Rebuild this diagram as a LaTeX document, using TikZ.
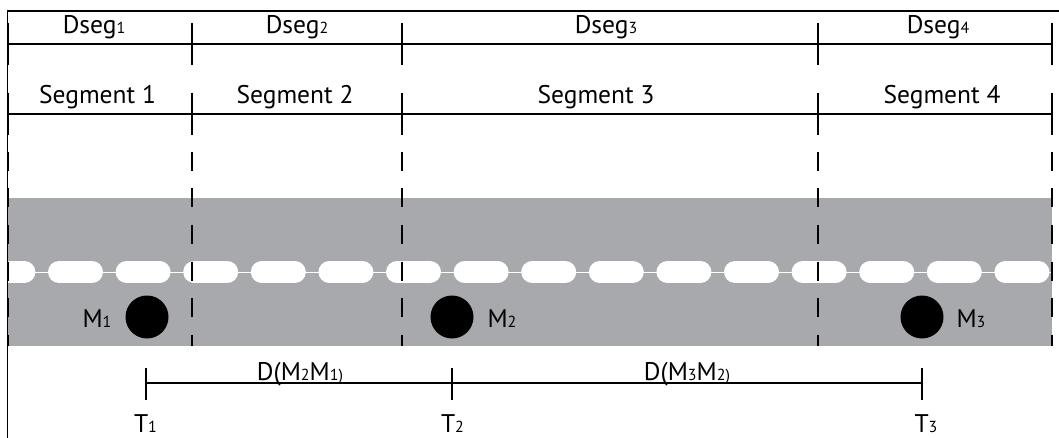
\documentclass[tikz,border=0pt]{standalone}
\usepackage{fontspec}
\setmainfont{PT Sans}
\definecolor{road}{HTML}{A7A9AC}
\newcommand\sbs[1]{{\fontsize{16}{16}\selectfont #1}}
\begin{document}
\begin{tikzpicture}[x=1pt,y=-1pt,
  lbl/.style={anchor=base, inner sep=0pt, font=\fontsize{25.5}{29}\selectfont},
  tickline/.style={line width=2pt},
  hline/.style={line width=1.5pt},
  divider/.style={line width=2pt, dash pattern=on 19pt off 17.5pt},
  marker/.style={circle, fill=black, minimum size=43pt, inner sep=0pt},
  lanedash/.style={white, line width=22pt, line cap=round}]
\useasboundingbox (0,0) rectangle (1059,438);
% road
\fill[road] (8,198) rectangle (1052,346);
\begin{scope}
  \clip (8,198) rectangle (1052,346);
  \draw[white, line width=1pt] (8,272) -- (1052,272);
  \foreach \k in {0,...,15} {
    \draw[lanedash] ({48+67.6*(\k-1)+11},272) -- ({48+67.6*(\k-1)+44},272);
  }
\end{scope}
% frame
\draw[line width=2pt] (7,11) -- (1059,11);
\draw[line width=1.3pt] (7.5,10) -- (7.5,438);
\draw[hline] (8,44) -- (1052,44);
\draw[hline] (8,114) -- (1052,114);
\foreach \x in {8,192,402,818,1052} {
  \draw[tickline] (\x,23) -- (\x,65);
  \draw[tickline] (\x,93) -- (\x,135);
  \draw[divider] (\x,152) -- (\x,346);
}
% header labels
\node[lbl] (ds1) at (94,34) {Dseg\sbs{1}};
\node[lbl] (ds2) at (297,34) {Dseg\sbs{2}};
\node[lbl] (ds3) at (606,34) {Dseg\sbs{3}};
\node[lbl] (ds4) at (938,34) {Dseg\sbs{4}};
\node[lbl] (sg1) at (97.5,104) {Segment 1};
\node[lbl] (sg2) at (295,104) {Segment 2};
\node[lbl] (sg3) at (596,104) {Segment 3};
\node[lbl] (sg4) at (942,104) {Segment 4};
% vehicles
\node[marker] (m1) at (147,317) {};
\node[marker] (m2) at (452,317) {};
\node[marker] (m3) at (922,317) {};
\node[lbl] (lm1) at (97,327) {M\sbs{1}};
\node[lbl] (lm2) at (502,327) {M\sbs{2}};
\node[lbl] (lm3) at (971,327) {M\sbs{3}};
% timeline
\coordinate (t1) at (146,383);
\coordinate (t2) at (452,383);
\coordinate (t3) at (922,383);
\draw[hline] (t1) -- (t2) -- (t3);
\foreach \t in {t1,t2,t3} {
  \draw[tickline] ([yshift=15pt]\t) -- ([yshift=-17pt]\t);
}
\node[lbl] (d21) at (300,380) {D(M\sbs{2}M\sbs{1)}};
\node[lbl] (d32) at (687,380) {D(M\sbs{3}M\sbs{2)}};
\node[lbl] (lt1) at (145.5,432) {T\sbs{1}};
\node[lbl] (lt2) at (452.5,432) {T\sbs{2}};
\node[lbl] (lt3) at (926,432) {T\sbs{3}};
\end{tikzpicture}
\end{document}
